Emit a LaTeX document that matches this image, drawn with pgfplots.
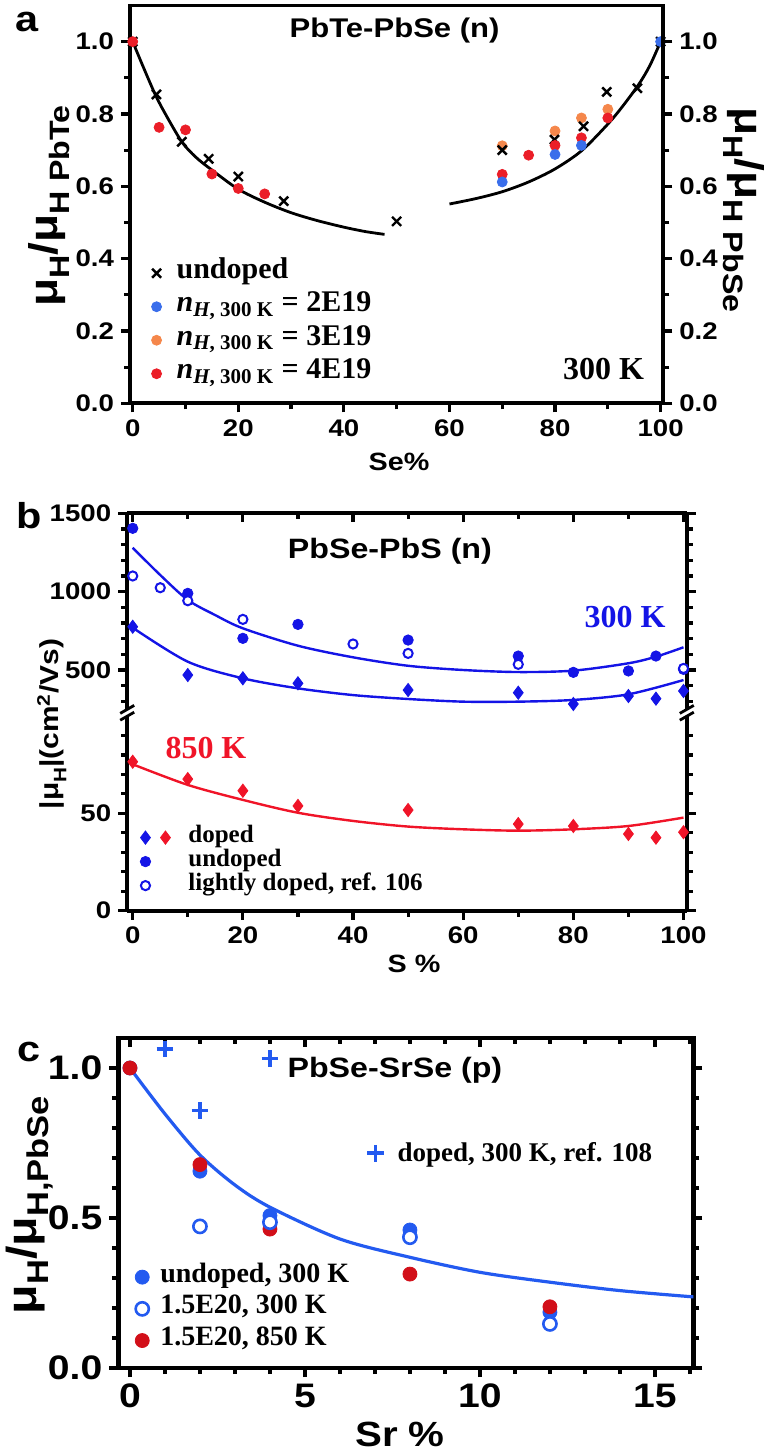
\documentclass[border=0pt]{standalone}
\usepackage{pgfplots}
\pgfplotsset{compat=1.18}
\usepackage{fontspec}
\setmainfont{Liberation Serif}
\setsansfont{Liberation Sans}[FakeStretch=1.15]

\definecolor{aBlue}{RGB}{58,110,235}
\definecolor{aOrange}{RGB}{245,135,75}
\definecolor{aRed}{RGB}{235,30,40}
\definecolor{bBlue}{RGB}{20,20,230}
\definecolor{bRed}{RGB}{240,20,40}
\definecolor{cBlue}{RGB}{35,90,240}
\definecolor{cRed}{RGB}{210,15,25}

\newcommand{\fs}[1]{\fontsize{#1}{#1}\selectfont}
\newcommand{\lo}[2]{\raisebox{-0.3em}{\fs{#1}#2}}

\pgfplotsset{
  base/.style={
    scale only axis, anchor=south west, clip=false,
    axis line style={line width=1.9pt},
    every tick/.style={line width=1.6pt, black},
    major tick length=4.5pt, minor tick length=3pt,
    tick align=outside,
    /pgf/number format/assume math mode=true,
    /pgf/number format/set thousands separator={},
    tick label style={font=\sffamily\bfseries\fs{12}},
  },
  onedec/.style={yticklabel style={/pgf/number format/fixed,/pgf/number format/fixed zerofill,/pgf/number format/precision=1}},
  markleg/.style={legend image code/.code={\draw[##1] plot coordinates {(0pt,0pt)};}},
}

\begin{document}
\begin{tikzpicture}
\useasboundingbox (0pt,0pt) rectangle (384.5pt,727pt);

% ---------------- panel a ----------------
\begin{axis}[base, onedec, at={(65.03pt,525.35pt)}, width=266.6pt, height=198.9pt,
  xmin=-0.5, xmax=100.5, ymin=0, ymax=1.1,
  xtick={0,20,40,60,80,100}, minor xtick={10,30,50,70,90},
  ytick={0,0.2,0.4,0.6,0.8,1.0}, minor ytick={0.1,0.3,0.5,0.7,0.9},
  xtick pos=left, ytick pos=left,
  markleg, legend cell align=left,
  legend style={at={(axis cs:3.5,0.407)}, anchor=north west, draw=none, fill=none,
    inner sep=0pt, row sep=0pt, column sep=7.5pt, font=\rmfamily\bfseries\fs{15},
    cells={anchor=west}, nodes={inner sep=0pt, text height=11pt, text depth=5.75pt}},
]
\addlegendimage{only marks, mark=x, black, mark size=3.2pt, mark options={line width=1.2pt}}
\addlegendentry{undoped}
\addlegendimage{only marks, mark=*, aBlue, mark size=2.5pt}
\addlegendentry{\textit{n}\textsubscript{\textit{H}, 300 K} = 2E19}
\addlegendimage{only marks, mark=*, aOrange, mark size=2.5pt}
\addlegendentry{\textit{n}\textsubscript{\textit{H}, 300 K} = 3E19}
\addlegendimage{only marks, mark=*, aRed, mark size=2.5pt}
\addlegendentry{\textit{n}\textsubscript{\textit{H}, 300 K} = 4E19}

\addplot[forget plot, black, line width=1.4pt, smooth, no markers] coordinates {
 (0,1.0) (2,0.93) (4.2,0.856) (6,0.805) (9.3,0.723) (12,0.68) (15,0.645) (20,0.592)
 (25,0.556) (30,0.527) (35,0.505) (40,0.487) (44,0.475) (47.7,0.467)};
\addplot[forget plot, black, line width=1.4pt, smooth, no markers] coordinates {
 (60,0.551) (65,0.566) (70,0.585) (75,0.612) (80,0.648) (85,0.698) (90,0.772)
 (93,0.825) (96,0.885) (98,0.935) (100,1.0)};

\addplot[forget plot, only marks, mark=*, aOrange, mark size=2.5pt] coordinates {
 (70,0.712) (80,0.753) (85,0.789) (90,0.813)};
\addplot[forget plot, only marks, mark=x, black, mark size=3.2pt, mark options={line width=1.2pt}] coordinates {
 (0,1.0) (4.5,0.854) (9.3,0.723) (14.4,0.676) (20.0,0.627) (28.6,0.559) (50,0.503)
 (70,0.70) (79.9,0.729) (85.4,0.766) (89.8,0.861) (95.6,0.871) (100,1.0)};
\addplot[forget plot, only marks, mark=*, aRed, mark size=2.5pt] coordinates {
 (0,1.0) (5,0.763) (10,0.756) (15,0.634) (20,0.594) (25,0.579)
 (70,0.633) (75,0.686) (80,0.713) (85,0.734) (90,0.789)};
\addplot[forget plot, only marks, mark=*, aBlue, mark size=2.5pt] coordinates {
 (70,0.612) (80,0.688) (85,0.713) (100,1.0)};

\node[font=\sffamily\bfseries\fs{13.5}] at (axis cs:49.6,1.032) {PbTe-PbSe (n)};
\node[font=\rmfamily\bfseries\fs{16}] at (axis cs:89.2,0.095) {300 K};
\end{axis}

\begin{axis}[base, onedec, at={(65.03pt,525.35pt)}, width=266.6pt, height=198.9pt,
  xmin=-0.5, xmax=100.5, ymin=0, ymax=1.1,
  axis x line=none, axis y line*=right, axis line style={-},
  ytick={0,0.2,0.4,0.6,0.8,1.0}, minor ytick={0.1,0.3,0.5,0.7,0.9},
  ytick pos=right, yticklabel pos=right]
\end{axis}

% ---------------- panel b (upper) ----------------
\begin{axis}[base, at={(63.6pt,372.4pt)}, width=279.8pt, height=97.95pt,
  xmin=-1, xmax=100.6, ymin=250, ymax=1500,
  axis x line*=top, axis y line*=box, axis line style={-},
  xtick={0,20,40,60,80,100}, minor xtick={10,30,50,70,90}, xtick pos=right,
  xticklabels={}, xtick align=inside,
  ytick={500,1000,1500}, minor ytick={300,400,600,700,800,900,1100,1200,1300,1400},
  ytick pos=both]
\addplot[bBlue, line width=1.2pt, smooth, no markers] coordinates {
 (0,1280) (5,1106) (10,947) (15,850) (20,766) (30,655) (40,581) (50,527) (60,500)
 (70,487) (80,496) (90,543) (95,585) (100,645)};
\addplot[bBlue, line width=1.2pt, smooth, no markers] coordinates {
 (0,770) (10,553) (20,447) (30,383) (40,340) (50,315) (60,298) (70,298) (80,309)
 (90,345) (100,436)};
\addplot[only marks, mark=*, bBlue, mark size=2.6pt] coordinates {
 (0,1404) (10,989) (20,702) (30,791) (50,691) (70,589) (80,485) (90,494) (95,589) (100,504)};
\addplot[only marks, mark=*, bBlue, mark size=2.3pt, mark options={fill=white, line width=1pt}] coordinates {
 (0,1100) (5,1025) (10,942) (20,823) (40,666) (50,606) (70,536) (100,510)};
\addplot[only marks, mark=diamond*, bBlue, mark size=3.3pt] coordinates {
 (0,776) (10,468) (20,447) (30,415) (50,372) (70,355) (80,283) (90,334) (95,317) (100,366)};
\node[font=\sffamily\bfseries\fs{14}] at (axis cs:46.7,1255) {PbSe-PbS (n)};
\node[font=\rmfamily\bfseries\fs{16}, text=bBlue] at (axis cs:89.4,838) {300 K};
\end{axis}

% ---------------- panel b (lower) ----------------
\begin{axis}[base, at={(63.6pt,271.65pt)}, width=279.8pt, height=97.35pt,
  xmin=-1, xmax=100.6, ymin=0, ymax=100,
  axis x line*=bottom, axis y line*=box, axis line style={-},
  xtick={0,20,40,60,80,100}, minor xtick={10,30,50,70,90}, xtick pos=left,
  ytick={0,50}, minor ytick={10,20,30,40,60,70,80,90}, ytick pos=both,
  markleg, legend cell align=left,
  legend style={at={(axis cs:1.3,43.9)}, anchor=north west, draw=none, fill=none,
    inner sep=0pt, row sep=0pt, column sep=9pt, font=\rmfamily\bfseries\fs{12.5},
    cells={anchor=west}, nodes={inner sep=0pt, text height=8.5pt, text depth=3.5pt}},
]
\addlegendimage{legend image code/.code={
  \draw[only marks, mark=diamond*, bBlue, mark size=3.3pt] plot coordinates {(0pt,0pt)};
  \draw[only marks, mark=diamond*, bRed, mark size=3.3pt] plot coordinates {(10pt,0pt)};}}
\addlegendentry{doped}
\addlegendimage{only marks, mark=*, bBlue, mark size=2.6pt}
\addlegendentry{undoped}
\addlegendimage{only marks, mark=*, bBlue, mark size=2.3pt, mark options={fill=white, line width=1pt}}
\addlegendentry{lightly doped, ref. 106}

\addplot[forget plot, bRed, line width=1.2pt, smooth, no markers] coordinates {
 (0,75.2) (10,64.6) (20,56.9) (30,50.3) (40,46.1) (50,43.2) (60,41.8) (70,41.1)
 (80,41.8) (90,43.5) (100,47.8)};
\addplot[forget plot, only marks, mark=diamond*, bRed, mark size=3.3pt] coordinates {
 (0,76.5) (10,67.6) (20,61.6) (30,53.8) (50,51.7) (70,44.5) (80,43.5) (90,39.4) (95,37.5) (100,40.3)};
\node[font=\rmfamily\bfseries\fs{16}, text=bRed] at (axis cs:13.3,83.8) {850 K};
\end{axis}

% axis break marks
\fill[white] (58pt,369.2pt) rectangle (69pt,372.2pt);
\fill[white] (338pt,369.2pt) rectangle (349pt,372.2pt);
\foreach \xx in {63.6pt,343.4pt}{
  \draw[line width=1.4pt] ([xshift=-3.5pt]\xx,370.3pt) -- ([xshift=3.5pt]\xx,374.3pt);
  \draw[line width=1.4pt] ([xshift=-3.5pt]\xx,366.9pt) -- ([xshift=3.5pt]\xx,370.9pt);
}

% ---------------- panel c ----------------
\begin{axis}[base, onedec, at={(59.2pt,43pt)}, width=287.5pt, height=165pt,
  axis line style={line width=2.1pt},
  xmin=-0.33, xmax=16.1, ymin=0, ymax=1.1,
  xtick={0,5,10,15}, minor xtick={1,2,3,4,6,7,8,9,11,12,13,14,16},
  ytick={0,0.5,1.0}, minor ytick={0.1,0.2,0.3,0.4,0.6,0.7,0.8,0.9},
  xtick pos=left, ytick pos=both,
  tick label style={font=\sffamily\bfseries\fs{17}},
  markleg, legend cell align=left,
  legend style={at={(axis cs:0.14,0.357)}, anchor=north west, draw=none, fill=none,
    inner sep=0pt, row sep=0pt, column sep=5.5pt, font=\rmfamily\bfseries\fs{14},
    cells={anchor=west}, nodes={inner sep=0pt, text height=10.5pt, text depth=5.35pt}},
]
\addlegendimage{only marks, mark=*, cBlue, mark size=3.5pt}
\addlegendentry{undoped, 300 K}
\addlegendimage{only marks, mark=*, cBlue, mark size=3.3pt, mark options={fill=white, line width=1.3pt}}
\addlegendentry{1.5E20, 300 K}
\addlegendimage{only marks, mark=*, cRed, mark size=3.5pt}
\addlegendentry{1.5E20, 850 K}

\addplot[forget plot, cBlue, line width=1.6pt, smooth, no markers] coordinates {
 (0,1.0) (1,0.847) (2,0.71) (3,0.61) (4,0.536) (6,0.43) (8,0.369) (10,0.319)
 (12,0.286) (14,0.258) (16.1,0.237)};
\addplot[forget plot, only marks, mark=*, cBlue, mark size=3.5pt] coordinates {
 (0,1.0) (2,0.656) (4,0.508) (8,0.46) (12,0.186)};
\addplot[forget plot, only marks, mark=*, cRed, mark size=3.5pt] coordinates {
 (0,1.0) (2,0.678) (4,0.463) (8,0.313) (12,0.204)};
\addplot[forget plot, only marks, mark=*, cBlue, mark size=3.3pt, mark options={fill=white, line width=1.3pt}] coordinates {
 (2,0.472) (4,0.486) (8,0.436) (12,0.147)};
\node[font=\sffamily\bfseries\fs{14}] at (axis cs:7.57,0.993) {PbSe-SrSe (p)};
\end{axis}

\begin{axis}[base, at={(59.2pt,43pt)}, width=287.5pt, height=165pt,
  axis line style={line width=2.1pt, -},
  xmin=-0.33, xmax=16.1, ymin=0, ymax=1.1,
  axis x line*=top, axis y line=none,
  xtick={0,5,10,15}, minor xtick={1,2,3,4,6,7,8,9,11,12,13,14,16},
  xtick pos=right, xticklabels={}, xtick align=inside,
  markleg,
  legend style={at={(axis cs:6.77,0.716)}, anchor=west, draw=none, fill=none,
    inner sep=0pt, column sep=6.8pt, font=\rmfamily\bfseries\fs{13.5},
    cells={anchor=west}, nodes={inner sep=0pt}},
]
\addplot[only marks, mark=+, cBlue, mark size=4.2pt, mark options={line width=1.7pt}] coordinates {
 (1,1.063) (4,1.032) (2,0.858)};
\addlegendentry{doped, 300 K, ref. 108}
\end{axis}

% ---------------- labels ----------------
\node[font=\sffamily\bfseries\fs{18}] at (13.75pt,715.75pt) {a};
\node[font=\sffamily\bfseries\fs{18}] at (14.75pt,469pt) {b};
\node[font=\sffamily\bfseries\fs{18}] at (14.75pt,201pt) {c};

\node[rotate=90, font=\sffamily\bfseries\fs{20}] at (24.5pt,624pt) {μ\lo{14}{H}/μ\lo{14}{H PbTe}};
\node[rotate=-90, font=\sffamily\bfseries\fs{20}] at (372pt,622pt) {μ\lo{14}{H}/μ\lo{14}{H PbSe}};
\node[font=\sffamily\bfseries\fs{12.5}] at (199.5pt,496.15pt) {Se\%};

\node[rotate=90, font=\sffamily\bfseries\fs{13}] at (25.85pt,365pt) {|μ\lo{9}{H}|(cm\textsuperscript{2}/Vs)};
\node[font=\sffamily\bfseries\fs{12.5}] at (207pt,245pt) {S \%};

\node[rotate=90, font=\sffamily\bfseries\fs{21}] at (14.8pt,124.5pt) {μ\lo{15}{H}/μ\lo{15}{H,PbSe}};
\node[font=\sffamily\bfseries\fs{17.5}] at (200pt,10pt) {Sr \%};
\end{tikzpicture}
\end{document}
